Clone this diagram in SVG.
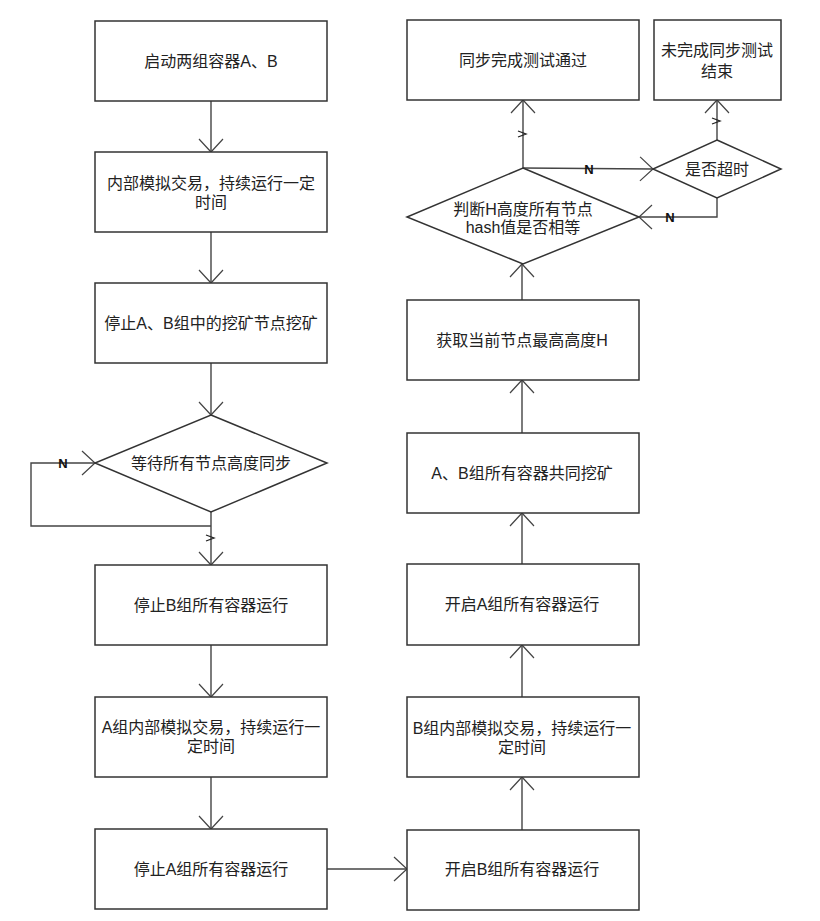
<svg xmlns="http://www.w3.org/2000/svg" width="820" height="921" viewBox="0 0 820 921">
<style>
.box{fill:#fff;stroke:#333;stroke-width:1.5}
.ln{fill:none;stroke:#444;stroke-width:1.4}
.t{font-family:"Liberation Sans","Noto Sans CJK SC",sans-serif;font-size:16px;fill:#222;text-anchor:middle}
.n{font-family:"Liberation Sans",sans-serif;font-size:13px;font-weight:bold;fill:#111;text-anchor:middle}
.tick{fill:none;stroke:#222;stroke-width:1.3}
</style>
<defs>
<marker id="ah" markerUnits="userSpaceOnUse" markerWidth="30" markerHeight="30" refX="0" refY="0" viewBox="-15 -15 30 30" orient="auto" overflow="visible">
<path d="M-13,-12 L0,0 L-13,12" fill="none" stroke="#444" stroke-width="1.2"/>
</marker>
</defs>
<rect width="820" height="921" fill="#fff"/>
<g id="connectors">
<line class="ln" x1="211" y1="101" x2="211" y2="152" marker-end="url(#ah)"/>
<line class="ln" x1="211" y1="232" x2="211" y2="283" marker-end="url(#ah)"/>
<line class="ln" x1="211" y1="363" x2="211" y2="415" marker-end="url(#ah)"/>
<line class="ln" x1="211" y1="512" x2="211" y2="565" marker-end="url(#ah)"/>
<polyline class="ln" points="211,526 31,526 31,463 95,463" marker-end="url(#ah)"/>
<line class="ln" x1="211" y1="645" x2="211" y2="697" marker-end="url(#ah)"/>
<line class="ln" x1="211" y1="777" x2="211" y2="829" marker-end="url(#ah)"/>
<line class="ln" x1="327" y1="869" x2="407" y2="869" marker-end="url(#ah)"/>
<line class="ln" x1="522" y1="830" x2="522" y2="777" marker-end="url(#ah)"/>
<line class="ln" x1="522" y1="697" x2="522" y2="645" marker-end="url(#ah)"/>
<line class="ln" x1="522" y1="564" x2="522" y2="513" marker-end="url(#ah)"/>
<line class="ln" x1="522" y1="433" x2="522" y2="380" marker-end="url(#ah)"/>
<line class="ln" x1="522" y1="300" x2="522" y2="264" marker-end="url(#ah)"/>
<line class="ln" x1="523" y1="168" x2="523" y2="100" marker-end="url(#ah)"/>
<line class="ln" x1="523" y1="168" x2="653" y2="169" marker-end="url(#ah)"/>
<polyline class="ln" points="717,198 717,217 639,217" marker-end="url(#ah)"/>
<line class="ln" x1="717" y1="140" x2="717" y2="100" marker-end="url(#ah)"/>
<path class="tick" d="M206,535 L214,538 L206,541"/>
<path class="tick" d="M518,131 L526,134 L518,137"/>
<path class="tick" d="M712,118 L720,121 L712,124"/>
<text class="n" x="63" y="468">N</text>
<text class="n" x="589" y="174">N</text>
<text class="n" x="670" y="222">N</text>
</g>
<g id="n1"><rect class="box" x="95" y="21" width="232" height="80"/><text class="t" x="211" y="67">启动两组容器A、B</text></g>
<g id="n2"><rect class="box" x="95" y="152" width="232" height="80"/><text class="t" x="211" y="189">内部模拟交易，持续运行一定</text><text class="t" x="211" y="208">时间</text></g>
<g id="n3"><rect class="box" x="95" y="283" width="232" height="80"/><text class="t" x="211" y="329">停止A、B组中的挖矿节点挖矿</text></g>
<g id="n4"><polygon class="box" points="211,415 327,463 211,512 95,463"/><text class="t" x="211" y="469">等待所有节点高度同步</text></g>
<g id="n5"><rect class="box" x="95" y="565" width="232" height="80"/><text class="t" x="211" y="611">停止B组所有容器运行</text></g>
<g id="n6"><rect class="box" x="95" y="697" width="232" height="80"/><text class="t" x="211" y="733">A组内部模拟交易，持续运行一</text><text class="t" x="211" y="752">定时间</text></g>
<g id="n7"><rect class="box" x="95" y="829" width="232" height="80"/><text class="t" x="211" y="875">停止A组所有容器运行</text></g>
<g id="n8"><rect class="box" x="407" y="830" width="232" height="80"/><text class="t" x="522" y="875">开启B组所有容器运行</text></g>
<g id="n9"><rect class="box" x="407" y="697" width="232" height="80"/><text class="t" x="522" y="734">B组内部模拟交易，持续运行一</text><text class="t" x="522" y="753">定时间</text></g>
<g id="n10"><rect class="box" x="407" y="564" width="232" height="81"/><text class="t" x="522" y="610">开启A组所有容器运行</text></g>
<g id="n11"><rect class="box" x="407" y="433" width="232" height="80"/><text class="t" x="522" y="479">A、B组所有容器共同挖矿</text></g>
<g id="n12"><rect class="box" x="407" y="300" width="232" height="80"/><text class="t" x="522" y="346">获取当前节点最高高度H</text></g>
<g id="n13"><polygon class="box" points="523,168 639,217 523,264 407,217"/><text class="t" x="523" y="215">判断H高度所有节点</text><text class="t" x="523" y="233">hash值是否相等</text></g>
<g id="n14"><rect class="box" x="407" y="20" width="232" height="80"/><text class="t" x="523" y="66">同步完成测试通过</text></g>
<g id="n15"><rect class="box" x="654" y="20" width="127" height="80"/><text class="t" x="717" y="56">未完成同步测试</text><text class="t" x="717" y="77">结束</text></g>
<g id="n16"><polygon class="box" points="717,140 781,169 717,198 653,169"/><text class="t" x="717" y="175">是否超时</text></g>
</svg>
